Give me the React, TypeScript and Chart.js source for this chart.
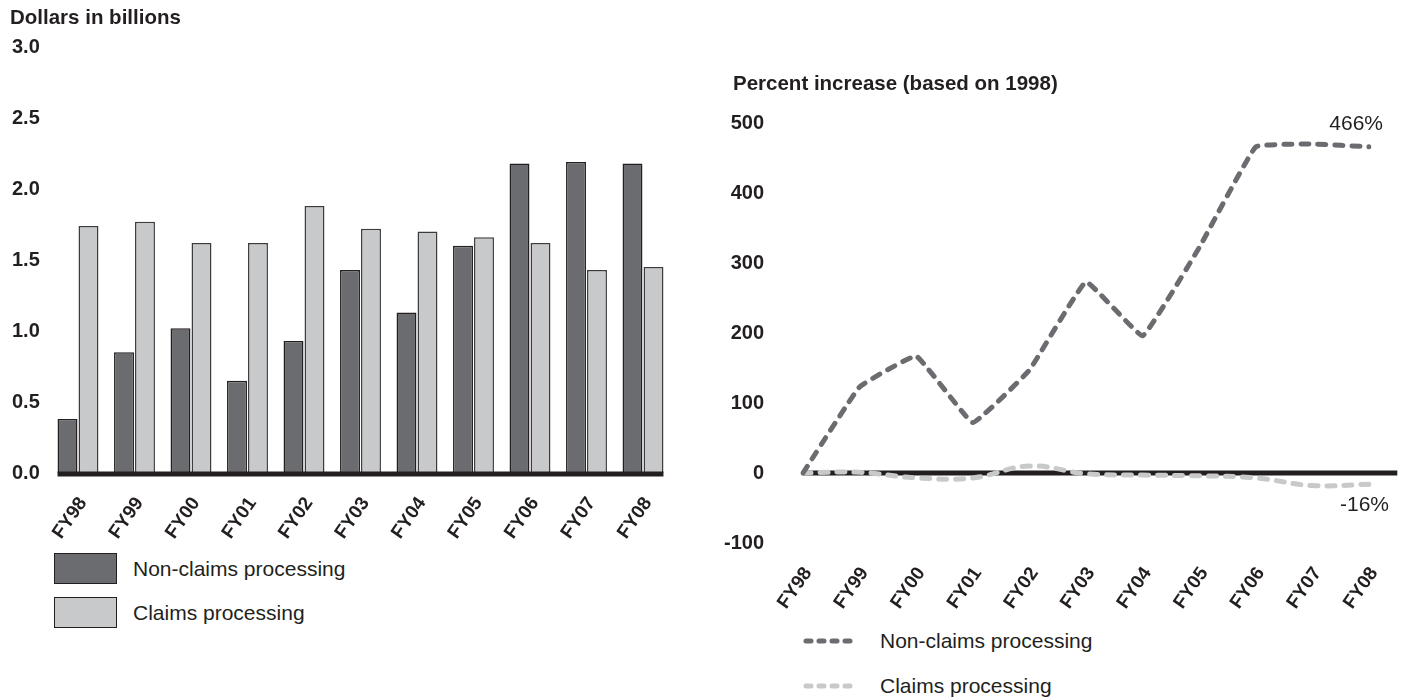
import React, { useEffect, useRef } from "react";
import { Chart, registerables } from "chart.js";

Chart.register(...registerables);

// ---------- data ----------
const categories = ["FY98", "FY99", "FY00", "FY01", "FY02", "FY03", "FY04", "FY05", "FY06", "FY07", "FY08"];
const seriesNames = ["Non-claims processing", "Claims processing"];
const nonClaimsDollars = [0.38, 0.85, 1.02, 0.65, 0.93, 1.43, 1.13, 1.6, 2.18, 2.19, 2.18];
const claimsDollars = [1.74, 1.77, 1.62, 1.62, 1.88, 1.72, 1.7, 1.66, 1.62, 1.43, 1.45];
const nonClaimsPct = [0, 123, 167, 72, 147, 273, 196, 322, 466, 470, 466];
const claimsPct = [0, 1, -7, -7, 10, -1, -3, -4, -7, -18, -16];
const dollarAxis = { min: 0, max: 3, step: 0.5 };
const pctAxis = { min: -100, max: 500, step: 100 };
const endLabels = ["466%", "-16%"];
const leftTitle = "Dollars in billions";
const rightTitle = "Percent increase (based on 1998)";

// ---------- styles ----------
const FONT = "'Liberation Sans', Arial, Helvetica, sans-serif";
const INK = "#231f20";
const DARK = "#6b6c70";
const LIGHT = "#c8c9cb";

const LW = 700;
const LH = 552;
const RW = 703;
const RH = 625;

const leftZeroLine = {
  id: "leftZeroLine",
  afterDatasetsDraw(chart: any) {
    const m0 = chart.getDatasetMeta(0).data[0];
    const mLast = chart.getDatasetMeta(1).data;
    const last = mLast[mLast.length - 1];
    if (!m0 || !last) return;
    const y = chart.scales.y.getPixelForValue(0);
    const ctx = chart.ctx;
    ctx.save();
    ctx.strokeStyle = INK;
    ctx.lineWidth = 5;
    ctx.beginPath();
    ctx.moveTo(m0.x - m0.width / 2, y + 1);
    ctx.lineTo(last.x + last.width / 2, y + 1);
    ctx.stroke();
    ctx.restore();
  },
};

const rightZeroLine = {
  id: "rightZeroLine",
  beforeDatasetsDraw(chart: any) {
    const xs = chart.scales.x;
    const n = categories.length;
    const x0 = xs.getPixelForValue(0);
    const x1 = xs.getPixelForValue(n - 1);
    const half = (x1 - x0) / (n - 1) / 2;
    const y = chart.scales.y.getPixelForValue(0);
    const ctx = chart.ctx;
    ctx.save();
    ctx.strokeStyle = INK;
    ctx.lineWidth = 5;
    ctx.beginPath();
    ctx.moveTo(x0, y);
    ctx.lineTo(x1 + half, y);
    ctx.stroke();
    ctx.restore();
  },
};

const endLabelPlugin = {
  id: "endLabelPlugin",
  afterDatasetsDraw(chart: any) {
    const ctx = chart.ctx;
    ctx.save();
    ctx.font = `21px ${FONT}`;
    ctx.fillStyle = INK;
    ctx.textAlign = "right";
    ctx.textBaseline = "middle";
    chart.data.datasets.forEach((ds: any, i: number) => {
      const pts = chart.getDatasetMeta(i).data;
      const p = pts[pts.length - 1];
      if (!p) return;
      if (i === 0) ctx.fillText(endLabels[i], p.x + 14, p.y - 23);
      else ctx.fillText(endLabels[i], p.x + 20, p.y + 21);
    });
    ctx.restore();
  },
};

function LeftChart() {
  const ref = useRef<HTMLCanvasElement | null>(null);
  useEffect(() => {
    if (!ref.current) return;
    const chart = new Chart(ref.current, {
      type: "bar",
      data: {
        labels: categories,
        datasets: [
          {
            label: seriesNames[0],
            data: nonClaimsDollars,
            backgroundColor: DARK,
            borderColor: INK,
            borderWidth: 1.5,
            categoryPercentage: 0.743,
            barPercentage: 0.95,
          },
          {
            label: seriesNames[1],
            data: claimsDollars,
            backgroundColor: LIGHT,
            borderColor: "#3c3c3c",
            borderWidth: 1.5,
            categoryPercentage: 0.743,
            barPercentage: 0.95,
          },
        ],
      },
      options: {
        responsive: false,
        animation: false,
        devicePixelRatio: 1,
        layout: { padding: { top: 47, right: 28.75, left: 0, bottom: 0 } },
        plugins: { legend: { display: false }, tooltip: { enabled: false } },
        scales: {
          x: {
            offset: true,
            grid: { display: false },
            border: { display: false },
            ticks: {
              autoSkip: false,
              minRotation: 55,
              maxRotation: 55,
              padding: 12,
              labelOffset: 5,
              color: INK,
              font: { family: FONT, size: 19, weight: "bold" },
            },
            afterFit: (s: any) => {
              s.height = LH - 473;
            },
          },
          y: {
            min: dollarAxis.min,
            max: dollarAxis.max,
            grid: { display: false, drawTicks: false },
            border: { display: false },
            ticks: {
              stepSize: dollarAxis.step,
              padding: 10,
              color: INK,
              font: { family: FONT, size: 20, weight: "bold" },
              callback: (v: any) => Number(v).toFixed(1),
            },
            afterFit: (s: any) => {
              s.width = 49.75;
            },
          },
        },
      },
      plugins: [leftZeroLine],
    } as any);
    return () => chart.destroy();
  }, []);
  return <canvas ref={ref} width={LW} height={LH} style={{ position: "absolute", left: 0, top: 0, width: LW, height: LH }} />;
}

function RightChart() {
  const ref = useRef<HTMLCanvasElement | null>(null);
  useEffect(() => {
    if (!ref.current) return;
    const chart = new Chart(ref.current, {
      type: "line",
      data: {
        labels: categories,
        datasets: [
          {
            label: seriesNames[0],
            data: nonClaimsPct,
            borderColor: DARK,
            borderWidth: 5,
            borderDash: [8, 9],
            borderCapStyle: "round",
            borderJoinStyle: "round",
            pointRadius: 0,
            tension: 0.08,
            fill: false,
          },
          {
            label: seriesNames[1],
            data: claimsPct,
            borderColor: LIGHT,
            borderWidth: 5,
            borderDash: [8, 9],
            borderCapStyle: "round",
            borderJoinStyle: "round",
            pointRadius: 0,
            tension: 0.4,
            fill: false,
          },
        ],
      },
      options: {
        responsive: false,
        animation: false,
        devicePixelRatio: 1,
        layout: { padding: { top: 123, right: 34, left: 0, bottom: 0 } },
        plugins: { legend: { display: false }, tooltip: { enabled: false } },
        scales: {
          x: {
            offset: false,
            grid: { display: false },
            border: { display: false },
            ticks: {
              autoSkip: false,
              minRotation: 55,
              maxRotation: 55,
              padding: 12,
              labelOffset: 5,
              color: INK,
              font: { family: FONT, size: 19, weight: "bold" },
            },
            afterFit: (s: any) => {
              s.height = RH - 543;
            },
          },
          y: {
            min: pctAxis.min,
            max: pctAxis.max,
            grid: { display: false, drawTicks: false },
            border: { display: false },
            ticks: {
              stepSize: pctAxis.step,
              padding: 39,
              color: INK,
              font: { family: FONT, size: 20, weight: "bold" },
            },
            afterFit: (s: any) => {
              s.width = 103;
            },
          },
        },
      },
      plugins: [rightZeroLine, endLabelPlugin],
    } as any);
    return () => chart.destroy();
  }, []);
  return <canvas ref={ref} width={RW} height={RH} style={{ position: "absolute", left: 700, top: 0, width: RW, height: RH }} />;
}

const textBase: React.CSSProperties = {
  position: "absolute",
  fontFamily: FONT,
  color: INK,
  lineHeight: "24px",
  height: 24,
  whiteSpace: "nowrap",
};

export default function App() {
  return (
    <div style={{ position: "fixed", left: 0, top: 0, width: 1403, height: 698, background: "#fff", overflow: "hidden" }}>
      <LeftChart />
      <RightChart />
      <div style={{ ...textBase, left: 10, top: 5, fontSize: 20.5, fontWeight: "bold" }}>{leftTitle}</div>
      <div style={{ ...textBase, left: 733, top: 71, fontSize: 20.5, fontWeight: "bold" }}>{rightTitle}</div>

      {/* left legend */}
      <div style={{ position: "absolute", left: 54, top: 553, width: 61, height: 29, background: DARK, border: `1.5px solid ${INK}` }} />
      <div style={{ ...textBase, left: 133, top: 557, fontSize: 21 }}>{seriesNames[0]}</div>
      <div style={{ position: "absolute", left: 54, top: 597, width: 61, height: 29, background: LIGHT, border: `1.5px solid ${INK}` }} />
      <div style={{ ...textBase, left: 133, top: 601, fontSize: 21 }}>{seriesNames[1]}</div>

      {/* right legend */}
      <svg style={{ position: "absolute", left: 798, top: 630 }} width={60} height={70}>
        <line x1={8} y1={11} x2={52} y2={11} stroke={DARK} strokeWidth={5} strokeDasharray="5 8" strokeLinecap="round" />
        <line x1={8} y1={56} x2={52} y2={56} stroke={LIGHT} strokeWidth={5} strokeDasharray="5 8" strokeLinecap="round" />
      </svg>
      <div style={{ ...textBase, left: 880, top: 629, fontSize: 21 }}>{seriesNames[0]}</div>
      <div style={{ ...textBase, left: 880, top: 674, fontSize: 21 }}>{seriesNames[1]}</div>
    </div>
  );
}
